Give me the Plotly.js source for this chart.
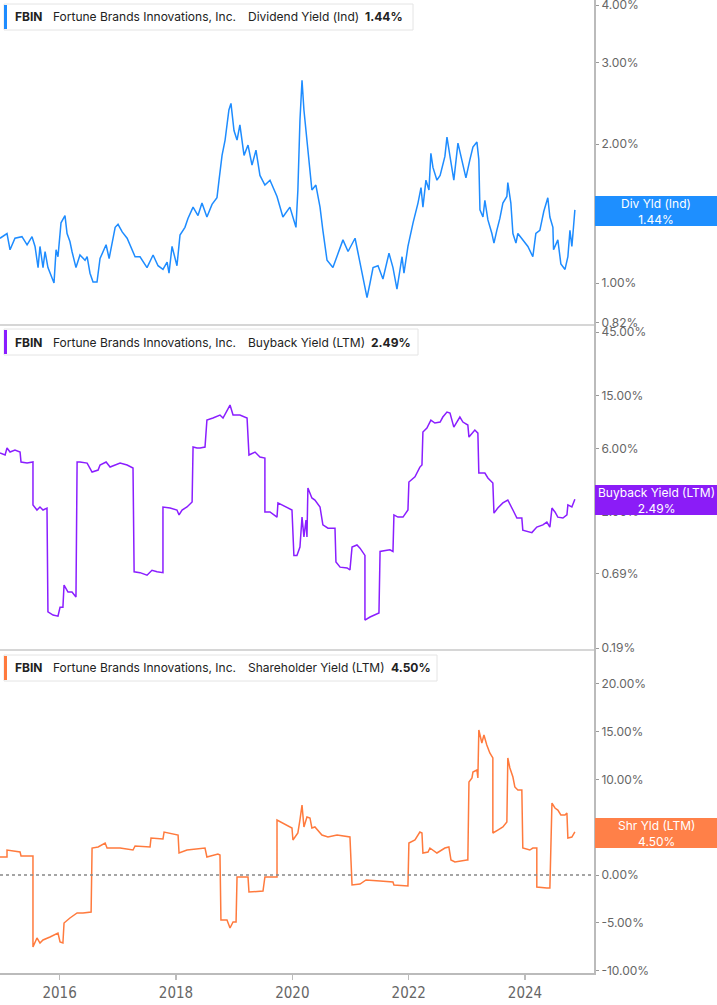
<!DOCTYPE html>
<html>
<head>
<meta charset="utf-8">
<script src="https://cdn.plot.ly/plotly-3.0.1.min.js"></script>
<style>html,body{margin:0;padding:0;background:#fff;}#chart{width:717px;height:1005px;}</style>
</head>
<body>
<div id="chart"></div>
<script>
// ---- DATA (dates as decimal years) ----
const divYears = [2014.978,2015.098,2015.149,2015.235,2015.356,2015.442,2015.527,2015.579,2015.631,2015.665,2015.716,2015.751,2015.802,2015.871,2015.905,2015.940,2015.974,2016.026,2016.095,2016.129,2016.180,2016.215,2016.284,2016.352,2016.438,2016.473,2016.524,2016.576,2016.644,2016.696,2016.799,2016.851,2016.954,2017.005,2017.074,2017.160,2017.246,2017.297,2017.383,2017.503,2017.607,2017.692,2017.778,2017.847,2017.881,2017.933,2018.019,2018.070,2018.156,2018.208,2018.294,2018.380,2018.448,2018.534,2018.620,2018.706,2018.741,2018.792,2018.844,2018.912,2018.947,2018.998,2019.050,2019.101,2019.170,2019.239,2019.308,2019.376,2019.445,2019.531,2019.617,2019.737,2019.840,2019.961,2020.064,2020.098,2020.132,2020.167,2020.201,2020.235,2020.287,2020.338,2020.407,2020.476,2020.527,2020.596,2020.699,2020.820,2020.871,2020.957,2021.077,2021.129,2021.215,2021.284,2021.335,2021.387,2021.473,2021.558,2021.662,2021.730,2021.799,2021.885,2021.919,2021.988,2022.074,2022.160,2022.211,2022.246,2022.297,2022.349,2022.383,2022.418,2022.486,2022.540,2022.624,2022.658,2022.710,2022.778,2022.847,2022.916,2022.985,2023.053,2023.105,2023.174,2023.208,2023.225,2023.277,2023.311,2023.363,2023.431,2023.466,2023.517,2023.569,2023.620,2023.689,2023.706,2023.758,2023.792,2023.844,2023.878,2023.964,2024.050,2024.136,2024.187,2024.256,2024.325,2024.393,2024.428,2024.479,2024.490,2024.565,2024.617,2024.686,2024.737,2024.771,2024.806,2024.823,2024.857];
const divYield = [1.25,1.28,1.18,1.25,1.26,1.21,1.26,1.20,1.08,1.20,1.08,1.17,1.08,1.03,1.00,1.18,1.14,1.35,1.40,1.28,1.23,1.17,1.08,1.15,1.12,1.14,1.05,1.005,1.005,1.13,1.21,1.13,1.32,1.34,1.29,1.25,1.18,1.14,1.14,1.08,1.15,1.09,1.07,1.11,1.05,1.20,1.09,1.27,1.32,1.38,1.46,1.40,1.49,1.39,1.48,1.53,1.67,1.89,2.04,2.37,2.45,2.14,2.04,2.20,1.89,1.99,1.80,1.94,1.71,1.63,1.67,1.54,1.39,1.46,1.32,1.59,2.25,2.75,2.37,2.14,1.85,1.59,1.63,1.46,1.30,1.12,1.08,1.20,1.24,1.17,1.25,1.16,1.03,0.93,1.00,1.08,1.09,1.02,1.16,1.08,0.97,1.14,1.05,1.20,1.35,1.49,1.61,1.46,1.67,1.59,1.91,1.78,1.67,1.71,1.88,2.07,1.88,1.67,2.01,1.85,1.69,1.85,1.97,2.02,1.85,1.44,1.39,1.51,1.37,1.28,1.22,1.30,1.38,1.49,1.54,1.65,1.49,1.28,1.22,1.28,1.24,1.20,1.14,1.28,1.30,1.43,1.53,1.39,1.32,1.18,1.24,1.10,1.07,1.14,1.30,1.20,1.28,1.44];

const bbYears = [2014.978,2015.064,2015.098,2015.149,2015.235,2015.321,2015.338,2015.442,2015.545,2015.545,2015.613,2015.665,2015.716,2015.785,2015.802,2015.888,2015.974,2016.009,2016.060,2016.077,2016.146,2016.215,2016.284,2016.301,2016.352,2016.473,2016.558,2016.662,2016.696,2016.799,2016.868,2017.040,2017.160,2017.263,2017.280,2017.383,2017.503,2017.589,2017.675,2017.778,2017.778,2017.899,2018.019,2018.053,2018.105,2018.191,2018.277,2018.294,2018.363,2018.414,2018.500,2018.534,2018.637,2018.758,2018.809,2018.930,2018.981,2019.101,2019.222,2019.256,2019.359,2019.445,2019.531,2019.531,2019.617,2019.737,2019.754,2019.909,2019.995,2020.029,2020.081,2020.132,2020.167,2020.201,2020.235,2020.253,2020.270,2020.338,2020.390,2020.476,2020.527,2020.613,2020.734,2020.751,2020.820,2020.940,2020.991,2021.026,2021.112,2021.163,2021.249,2021.249,2021.335,2021.490,2021.507,2021.627,2021.679,2021.730,2021.747,2021.816,2021.902,2021.988,2022.005,2022.108,2022.194,2022.229,2022.246,2022.314,2022.383,2022.452,2022.540,2022.589,2022.658,2022.710,2022.778,2022.881,2022.933,2023.019,2023.036,2023.139,2023.191,2023.208,2023.311,2023.363,2023.448,2023.466,2023.534,2023.620,2023.706,2023.792,2023.861,2023.947,2023.964,2024.119,2024.204,2024.308,2024.376,2024.428,2024.462,2024.514,2024.565,2024.651,2024.720,2024.737,2024.806,2024.857];
const buybackYield = [5.55,5.36,6.05,5.64,5.84,5.64,4.75,4.66,4.75,2.26,2.07,2.18,2.07,2.14,0.355,0.336,0.330,0.385,0.385,0.565,0.50,0.50,0.46,4.75,4.75,4.66,3.99,4.13,4.51,4.75,4.35,4.66,4.51,4.28,0.71,0.70,0.67,0.73,0.71,0.70,2.18,2.14,2.07,1.90,2.07,2.18,2.38,6.15,6.05,6.05,6.15,9.81,10.16,10.70,10.16,12.72,10.70,10.70,10.16,5.36,5.64,5.18,5.09,2.00,2.00,1.83,2.34,2.18,2.07,0.943,0.943,1.09,1.83,1.30,1.74,1.30,3.03,2.55,2.46,2.18,1.60,1.51,1.51,0.842,0.77,0.76,0.733,1.09,1.13,1.07,0.943,0.308,0.325,0.348,1.01,1.03,1.04,1.01,1.90,1.83,1.83,2.07,3.36,3.67,4.35,4.51,7.98,8.55,9.81,9.32,9.48,10.34,11.27,11.07,8.69,10.34,9.48,9.00,7.31,8.26,7.83,3.92,3.92,3.60,3.30,1.96,2.14,2.34,2.46,2.07,1.80,1.80,1.46,1.40,1.54,1.60,1.68,1.54,2.14,2.00,1.83,1.80,1.90,2.26,2.18,2.49];

const shYears = [2014.978,2015.098,2015.098,2015.321,2015.338,2015.545,2015.545,2015.613,2015.665,2015.716,2015.837,2015.974,2016.009,2016.060,2016.077,2016.180,2016.301,2016.404,2016.541,2016.558,2016.662,2016.782,2016.816,2017.040,2017.263,2017.297,2017.555,2017.572,2017.778,2017.795,2018.036,2018.053,2018.191,2018.500,2018.534,2018.723,2018.758,2018.775,2018.878,2018.930,2018.981,2019.033,2019.050,2019.239,2019.256,2019.497,2019.531,2019.737,2019.737,2019.995,2020.012,2020.098,2020.132,2020.167,2020.201,2020.253,2020.304,2020.338,2020.390,2020.510,2020.613,2020.768,2020.991,2021.026,2021.163,2021.266,2021.507,2021.730,2021.747,2021.988,2022.005,2022.108,2022.194,2022.229,2022.246,2022.332,2022.366,2022.486,2022.624,2022.692,2022.727,2022.795,2023.002,2023.019,2023.036,2023.088,2023.105,2023.174,2023.191,2023.208,2023.260,2023.294,2023.345,2023.397,2023.448,2023.448,2023.534,2023.620,2023.689,2023.706,2023.741,2023.792,2023.827,2023.878,2023.947,2023.964,2024.084,2024.136,2024.204,2024.204,2024.376,2024.428,2024.462,2024.514,2024.565,2024.617,2024.686,2024.720,2024.737,2024.806,2024.857];
const shareholderYield = [1.88,1.88,2.61,2.40,1.99,1.99,-7.52,-6.58,-7.11,-6.79,-6.48,-6.06,-7.00,-7.11,-5.02,-4.49,-3.97,-3.97,-3.87,2.82,2.93,3.34,2.82,2.82,2.61,3.03,2.93,3.87,3.76,4.49,4.18,2.30,2.61,2.82,1.88,2.19,2.09,-4.70,-4.70,-5.54,-4.91,-4.91,-0.21,-0.21,-1.78,-1.67,-0.21,-0.21,5.75,4.91,3.66,4.39,5.75,7.31,5.02,6.06,5.96,4.91,5.02,4.18,3.97,4.18,3.97,-1.04,-0.94,-0.52,-0.63,-0.73,-1.04,-1.15,3.34,3.66,4.49,4.39,2.30,2.40,2.82,2.30,2.82,2.93,1.57,1.36,1.57,1.57,9.72,10.14,10.76,10.97,10.14,15.15,13.79,14.63,13.58,12.75,12.23,4.39,4.70,5.02,5.54,12.23,11.18,10.24,9.20,8.88,8.88,2.82,2.61,2.82,2.82,-1.25,-1.36,-1.36,7.52,7.00,6.79,6.27,6.27,6.48,3.87,3.97,4.50];

const yearTicks = [2016, 2018, 2020, 2022, 2024];
const divTicks = [0.82, 1, 2, 3, 4];
const bbTicks = [0.19, 0.69, 2, 6, 15, 45];
const shTicks = [-10, -5, 0, 5, 10, 15, 20];

const ticker = "FBIN";
const company = "Fortune Brands Innovations, Inc.";
const metricNames = ["Dividend Yield (Ind)", "Buyback Yield (LTM)", "Shareholder Yield (LTM)"];
const shortNames = ["Div Yld (Ind)", "Buyback Yield (LTM)", "Shr Yld (LTM)"];
const lastValues = [1.44, 2.49, 4.50];

// ---- helpers ----
function dec2date(d) {
  const y = Math.floor(d);
  const s = Date.UTC(y, 0, 1), e = Date.UTC(y + 1, 0, 1);
  return new Date(s + (d - y) * (e - s)).toISOString().slice(0, 10);
}
const W = 594, H = 973;              // plot area in px
const px = p => p / W;
const py = p => (H - p) / H;
const pct = v => v.toFixed(2) + "%";

const colors = ["#1E8CFF", "#8A1EFF", "#FF7A3D"];
const boxColors = ["#1E8FFF", "#8B1CF7", "#FF8048"];

const traces = [
  {x: divYears.map(dec2date), y: divYield, yaxis: "y", type: "scatter", mode: "lines",
   line: {color: colors[0], width: 1.5}, hoverinfo: "skip"},
  {x: bbYears.map(dec2date), y: buybackYield, yaxis: "y2", type: "scatter", mode: "lines",
   line: {color: colors[1], width: 1.5}, hoverinfo: "skip"},
  {x: shYears.map(dec2date), y: shareholderYield, yaxis: "y3", type: "scatter", mode: "lines",
   line: {color: colors[2], width: 1.5}, hoverinfo: "skip"}
];

const tickFont = {family: "Inter, Roboto, sans-serif", size: 12, color: "#666"};
function yax(domain, type, range, tv) {
  return {
    domain: domain, type: type, range: range, side: "right", anchor: "x",
    tickmode: "array", tickvals: tv, ticktext: tv.map(pct),
    ticks: "outside", ticklen: 3, tickcolor: "#999", tickwidth: 1,
    ticklabeloverflow: "allow",
    showline: true, linecolor: "#bbb", linewidth: 2, mirror: false,
    showgrid: false, zeroline: false, tickfont: tickFont, fixedrange: true
  };
}

const layout = {
  width: 717, height: 1005,
  margin: {l: 0, r: 123, t: 0, b: 32},
  paper_bgcolor: "#fff", plot_bgcolor: "#fff",
  showlegend: false,
  xaxis: {
    type: "date", anchor: "y3", domain: [0, 1],
    range: [dec2date(2014.978), dec2date(2025.184)],
    tickmode: "array", tickvals: yearTicks.map(y => y + "-01-01"), ticktext: yearTicks.map(String),
    ticks: "outside", ticklen: 5, tickcolor: "#bbb", tickwidth: 1.5,
    showline: true, linecolor: "#bbb", linewidth: 2, showgrid: false, zeroline: false,
    tickfont: {family: "Liberation Sans Narrow, DejaVu Sans Condensed, Roboto, sans-serif", size: 15, color: "#666"}
  },
  yaxis: yax([py(325), 1], "log", [-0.091, 0.6131], divTicks),
  yaxis2: yax([py(650), py(325)], "log", [-0.736, 1.706], bbTicks),
  yaxis3: yax([0, py(650)], "linear", [-10.24, 23.51], shTicks),
  shapes: [], annotations: []
};

// separators and zero line
[325, 650].forEach(p => layout.shapes.push({type: "line", xref: "paper", yref: "paper",
  x0: 0, x1: 1, y0: py(p), y1: py(p), line: {color: "#c8c8c8", width: 1.5}}));
layout.shapes.push({type: "line", xref: "paper", yref: "y3", x0: 0, x1: 1, y0: 0, y1: 0,
  line: {color: "#888", width: 1.5, dash: "dot"}});

// header boxes
const headerTop = [4, 329, 655];
const headerRight = [413, 418, 437];
const valueX = [363, 369, 389];
const hfont = {family: "Inter, Roboto, sans-serif", size: 12, color: "#222"};
for (let i = 0; i < 3; i++) {
  const t = headerTop[i], b = t + 26, mid = t + 13;
  layout.shapes.push({type: "rect", xref: "paper", yref: "paper", x0: px(4), x1: px(headerRight[i]),
    y0: py(b), y1: py(t), line: {color: "#e4e4e4", width: 1}, fillcolor: "#fff", layer: "above"});
  layout.shapes.push({type: "rect", xref: "paper", yref: "paper", x0: px(4), x1: px(7),
    y0: py(b - 1), y1: py(t + 1), line: {width: 0}, fillcolor: colors[i], layer: "above"});
  const parts = [[13, "<b>" + ticker + "</b>"], [51, company], [246, metricNames[i]], [valueX[i], "<b>" + pct(lastValues[i]) + "</b>"]];
  parts.forEach(([x, txt]) => layout.annotations.push({xref: "paper", yref: "paper", x: px(x), y: py(mid),
    xanchor: "left", yanchor: "middle", text: txt, showarrow: false, font: hfont}));
}

// right value labels
const boxTop = [196, 485, 818];
for (let i = 0; i < 3; i++) {
  const t = boxTop[i], b = t + 30;
  layout.shapes.push({type: "rect", xref: "paper", yref: "paper", x0: px(595), x1: px(717),
    y0: py(b), y1: py(t), line: {width: 0}, fillcolor: boxColors[i], layer: "above"});
  layout.annotations.push({xref: "paper", yref: "paper", x: px(656), y: py(t + 15),
    xanchor: "center", yanchor: "middle", showarrow: false,
    text: shortNames[i] + "<br>" + pct(lastValues[i]),
    font: {family: "Inter, Roboto, sans-serif", size: 12, color: "#fff"}});
}

Plotly.newPlot("chart", traces, layout, {staticPlot: true, displayModeBar: false});
</script>
</body>
</html>
